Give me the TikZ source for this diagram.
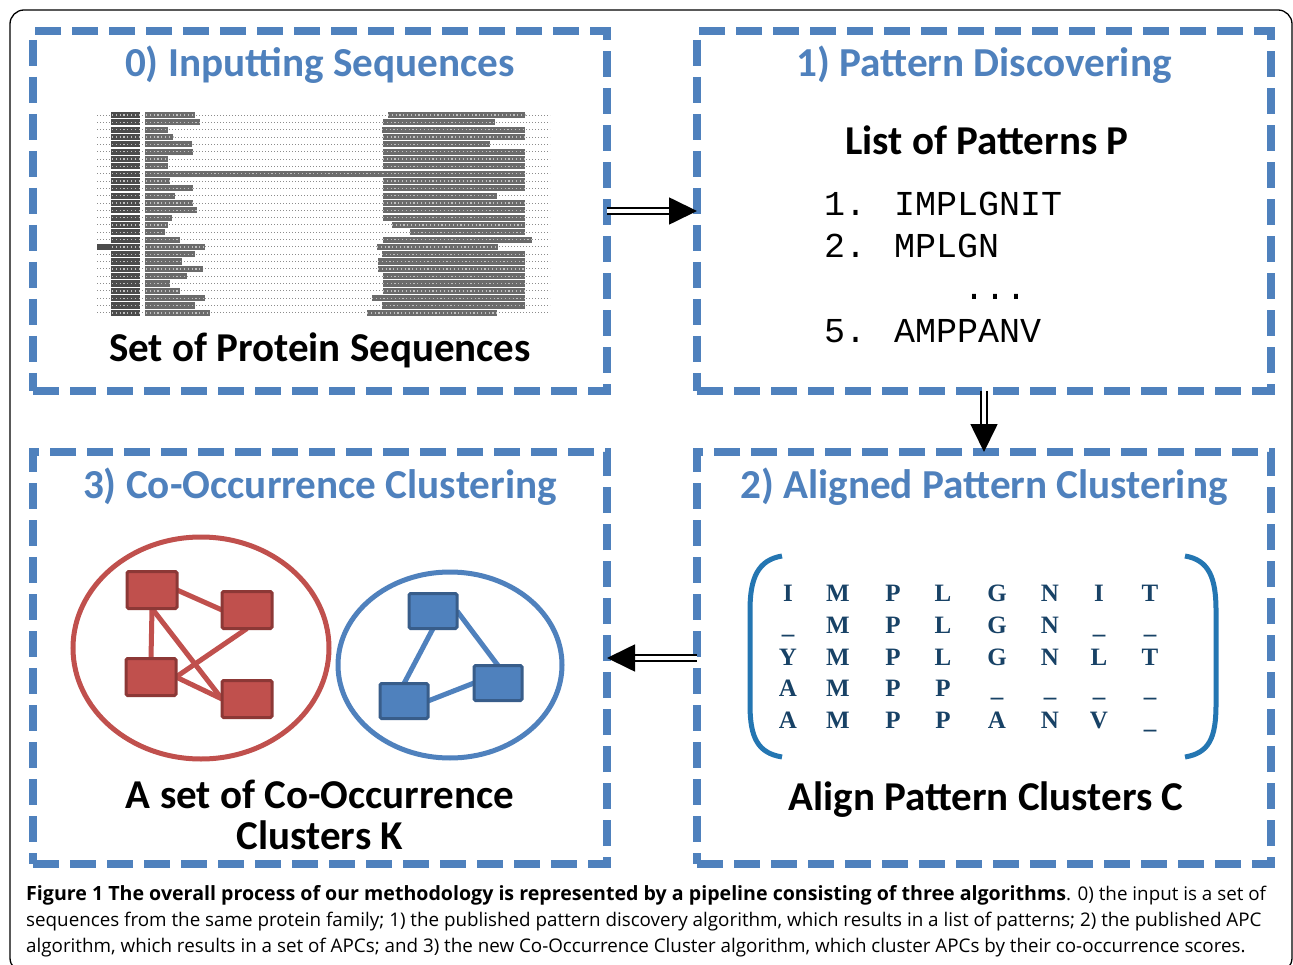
\documentclass[tikz,border=0pt]{standalone}
\usepackage{fontspec}
\setmainfont{Carlito}
\newfontfamily\mycap{Open Sans}
\newfontfamily\mymono{Liberation Mono}
\newfontfamily\mymat{Liberation Serif}
\usetikzlibrary{arrows.meta,backgrounds,shapes.geometric}
\definecolor{boxblue}{RGB}{79,129,189}
\definecolor{titleblue}{RGB}{79,129,189}
\definecolor{redfill}{RGB}{192,80,77}
\definecolor{redborder}{RGB}{140,56,54}
\definecolor{bluefill}{RGB}{79,129,189}
\definecolor{blueborder}{RGB}{56,93,138}
\definecolor{brackblue}{RGB}{36,118,178}
\definecolor{matcol}{RGB}{24,66,102}
\tikzset{
  stagebox/.style={draw=boxblue, line width=8pt, dash pattern=on 26pt off 11pt, minimum width=574pt, inner sep=0pt, outer sep=0pt},
  titletext/.style={font=\bfseries\fontsize{41.2}{48}\selectfont, text=titleblue, anchor=base, inner sep=0pt},
  labeltext/.style={font=\bfseries\fontsize{41}{46}\selectfont, text=black, anchor=base, inner sep=0pt, align=center},
  mono/.style={font=\mymono\fontsize{35}{40}\selectfont, anchor=base west, inner sep=0pt},
  mat/.style={font=\mymat\bfseries\fontsize{25}{30}\selectfont, text=matcol, anchor=base, inner sep=0pt},
  captext/.style={font=\mycap\fontsize{18.8}{22}\selectfont, anchor=base west, inner sep=0pt},
  pipe/.style={double, double distance=4pt, line width=1.7pt, -{Triangle[length=28pt,width=27pt]}},
  rsq/.style={draw=redborder, fill=redfill, line width=3pt, minimum width=50pt, minimum height=37pt, inner sep=0pt, outer sep=0pt, rounded corners=1.5pt},
  bsq/.style={draw=blueborder, fill=bluefill, line width=3pt, minimum width=48pt, minimum height=35pt, inner sep=0pt, outer sep=0pt, rounded corners=1.5pt},
  redge/.style={draw=redfill, line width=5pt},
  bedge/.style={draw=bluefill, line width=5pt},
  seqdot/.style={draw=black!45, line width=0.9pt, dash pattern=on 0.9pt off 2.1pt},
  seqblk/.style={fill=black!58},
  seqid/.style={fill=black!70},
  seqtex/.style={draw=white!75!black, line width=1.3pt, dash pattern=on 1.2pt off 2.6pt},
}
\begin{document}
\begin{tikzpicture}[x=1pt,y=-1pt]
\useasboundingbox (0,0) rectangle (1293,965);
\begin{scope}[on background layer]
\fill[white] (0,0) rectangle (1293,965);
\end{scope}
\clip (0,0) rectangle (1293,965);
% outer frame
\draw[line width=1.3pt, rounded corners=14pt] (10,10) rectangle (1292,972);

% stage boxes
\node[stagebox, minimum height=360pt] (b0) at (320,211) {};
\node[stagebox, minimum height=360pt] (b1) at (984,211) {};
\node[stagebox, minimum height=412pt] (b3) at (320,658) {};
\node[stagebox, minimum height=412pt] (b2) at (984,658) {};

% titles
\node[titletext] (t0) at (320,77) {0) Inputting Sequences};
\node[titletext] (t1) at (984,77) {1) Pattern Discovering};
\node[titletext] (t2) at (984,498) {2) Aligned Pattern Clustering};
\node[titletext] (t3) at (320,498) {3) Co-Occurrence Clustering};

% arrows
\draw[pipe] (b0.east) -- (b1.west);
\draw[pipe] (b1.south) -- (b2.north);
\draw[pipe] (b2.west) -- (b3.east);

% ---- stage 0 : sequence alignment picture
\foreach \le/\rs/\re [count=\i from 0] in {195/388/525, 200/383/495, 168/382/525, 173/383/525, 192/383/490, 193/383/525, 168/383/525, 168/383/525, 383/383/525, 170/383/525, 193/383/525, 175/383/497, 193/383/525, 197/383/525, 172/383/525, 168/392/525, 165/410/525, 180/383/532, 205/377/498, 195/382/525, 182/378/525, 203/378/525, 187/383/525, 170/383/525, 180/383/525, 205/372/525, 195/382/525, 210/367/497} {
  \pgfmathsetmacro\yy{115+\i*7.33}
  \draw[seqdot] (97,\yy) -- (550,\yy);
  \fill[seqid] (111,\yy-3.1) rectangle (140,\yy+3.1);
  \fill[seqblk] (145,\yy-3.1) rectangle (\le,\yy+3.1);
  \fill[seqblk] (\rs,\yy-3.1) rectangle (\re,\yy+3.1);
  \draw[seqtex] (112,\yy) -- (139,\yy);
  \draw[seqtex] (146,\yy) -- (\le,\yy);
  \draw[seqtex] (\rs,\yy) -- (\re,\yy);
}
\fill[seqid] (97,{115+18*7.33-3.1}) rectangle (111,{115+18*7.33+3.1});
\node[labeltext] (l0) at (320,362) {Set of Protein Sequences};

% ---- stage 1 : list of patterns
\node[labeltext] (l1) at (987,155) {List of Patterns P};
\node[mono] (p1) at (824,216) {1. IMPLGNIT};
\node[mono] (p2) at (824,258) {2. MPLGN};
\node[mono, anchor=base] (pd) at (995,300) {...};
\node[mono] (p5) at (824,343) {5. AMPPANV};

% ---- stage 2 : aligned pattern cluster
\draw[brackblue, line width=5pt] (782,556) .. controls (758,560) and (750,578) .. (750,610) -- (750,705) .. controls (750,738) and (758,753) .. (782,757);
\draw[brackblue, line width=5pt] (1185,556) .. controls (1209,560) and (1216,578) .. (1216,610) -- (1216,705) .. controls (1216,738) and (1209,753) .. (1185,757);
\foreach \yy/\row [count=\r] in {601/{I,M,P,L,G,N,I,T}, 633/{\_,M,P,L,G,N,\_,\_}, 665/{Y,M,P,L,G,N,L,T}, 696/{A,M,P,P,\_,\_,\_,\_}, 728/{A,M,P,P,A,N,V,\_}} {
  \foreach \ch [count=\c] in \row {
    \pgfmathsetmacro\xx{{788,838,893,943,997,1050,1099,1150}[\c-1]}
    \node[mat] (m\r-\c) at (\xx,\yy) {\ch};
  }
}
\node[labeltext] (l2) at (986,810) {Align Pattern Clusters C};

% ---- stage 3 : co-occurrence clusters
\node[draw=redfill, line width=5pt, ellipse, minimum width=256pt, minimum height=222pt, inner sep=0pt] (redc) at (201,648) {};
\node[draw=bluefill, line width=5pt, ellipse, minimum width=224pt, minimum height=186pt, inner sep=0pt] (bluec) at (450,665) {};
\node[rsq] (ra) at (152,590) {};
\node[rsq] (rb) at (247,610) {};
\node[rsq] (rc) at (151,677) {};
\node[rsq] (rd) at (247,699) {};
\node[bsq] (be) at (433,611) {};
\node[bsq] (bf) at (498,683) {};
\node[bsq] (bg) at (404,701) {};
\begin{scope}[on background layer]
\draw[redge] (ra.east) -- (rb.west);
\draw[redge] (ra.south) -- (rc.north);
\draw[redge] (ra.south) -- (rd.west);
\draw[redge] (rb.south) -- (rc.east);
\draw[redge] (rc.east) -- (rd.west);
\draw[bedge] (be.south) -- (bg.north);
\draw[bedge] (be.east) -- (bf.north);
\draw[bedge] (bg.east) -- (bf.west);
\end{scope}
\node[labeltext] (l3a) at (320,808) {A set of Co-Occurrence};
\node[labeltext] (l3b) at (320,849) {Clusters K};

% ---- caption
\node[captext] (c1) at (26,900) {{\bfseries\fontsize{19.6}{22}\selectfont Figure 1 The overall process of our methodology is represented by a pipeline consisting of three algorithms}. 0) the input is a set of};
\node[captext] (c2) at (26,926) {sequences from the same protein family; 1) the published pattern discovery algorithm, which results in a list of patterns; 2) the published APC};
\node[captext] (c3) at (26,952) {algorithm, which results in a set of APCs; and 3) the new Co-Occurrence Cluster algorithm, which cluster APCs by their co-occurrence scores.};
\end{tikzpicture}
\end{document}
